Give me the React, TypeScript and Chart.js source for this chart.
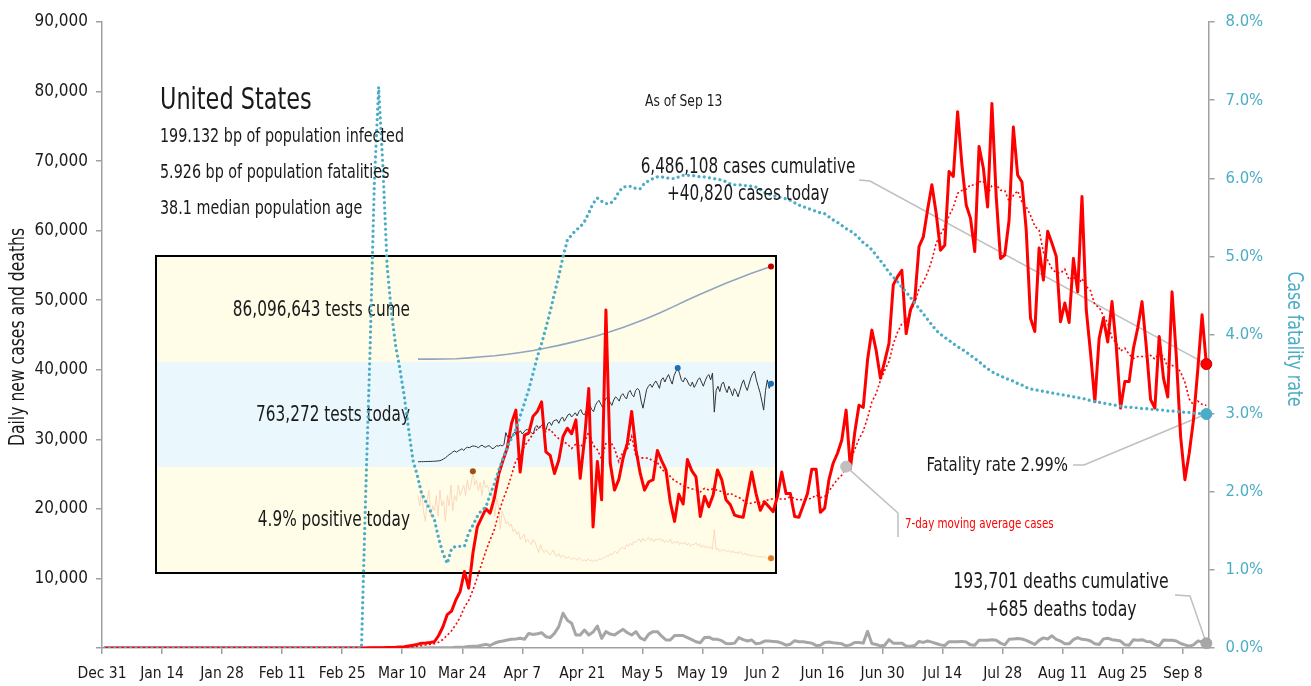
import React, { useEffect, useRef } from "react";
import { Chart, registerables } from "chart.js";

Chart.register(...registerables);

const FONT = '"Liberation Sans Narrow", "Arial Narrow", "DejaVu Sans Condensed", sans-serif';
const TEXT = "#1a1a1a";
const AXIS_GRAY = "#a0a0a0";
const RED = "#FF0000";
const CFR_BLUE = "#4BACC6";
const DEATH_GRAY = "#A6A6A6";
const LEADER = "#BFBFBF";
const SX = 0.83; // horizontal squeeze for a condensed look

// x axis: days since Dec 31
const TICK_DAYS = [0, 14, 28, 42, 56, 70, 84, 98, 112, 126, 140, 154, 168, 182, 196, 210, 224, 238, 252];
const TICK_LABELS = ["Dec 31", "Jan 14", "Jan 28", "Feb 11", "Feb 25", "Mar 10", "Mar 24", "Apr 7", "Apr 21", "May 5", "May 19", "Jun 2", "Jun 16", "Jun 30", "Jul 14", "Jul 28", "Aug 11", "Aug 25", "Sep 8"];

// Daily new cases, Dec 31 .. Sep 13
const CASES = [
  0, 0, 0, 0, 0, 0, 0, 0, 0, 0,
  0, 0, 0, 0, 0, 0, 0, 0, 0, 0,
  0, 0, 0, 0, 0, 0, 0, 0, 0, 0,
  0, 0, 0, 0, 0, 0, 0, 0, 0, 0,
  0, 0, 0, 0, 0, 0, 0, 0, 0, 0,
  0, 0, 0, 0, 0, 0, 0, 0, 0, 0,
  5, 10, 20, 25, 30, 50, 60, 80, 110, 160,
  190, 300, 400, 520, 700, 730, 800, 900, 1800, 3060,
  4800, 5300, 6900, 8100, 11000, 8600, 13700, 17400, 18700, 20000,
  19400, 21600, 25000, 27000, 28800, 32300, 34200, 25300, 30600, 30900,
  33300, 34000, 35400, 28200, 27700, 25100, 27000, 30400, 31600, 30800,
  32800, 24400, 30000, 37300, 17400, 26800, 21300, 48600, 26600, 22700,
  24200, 27300, 29500, 34000, 28500, 25100, 22700, 23900, 24200, 28400,
  26900, 25600, 21000, 18200, 22100, 20700, 27100, 25500, 24600, 18900,
  21800, 20300, 22000, 25600, 24200, 21300, 20600, 19100, 18900, 18800,
  22000, 25300, 22200, 19800, 21000, 20300, 19600, 21800, 25300, 22200,
  22200, 18900, 18800, 20500, 22200, 25700, 25700, 19500, 20100, 24200,
  26600, 28000, 29900, 34200, 25800, 30900, 34900, 34600, 41400, 45700,
  42800, 38800, 41200, 43800, 52200, 53400, 54300, 45200, 48600, 50000,
  57700, 59100, 63000, 66600, 62500, 57200, 57900, 68500, 67800, 77100,
  69500, 63700, 61800, 57000, 72100, 69000, 63400, 78300, 64900, 56000,
  56500, 61500, 74900, 68000, 67000, 60100, 47400, 45500, 57500, 52900,
  59900, 58200, 56300, 46900, 49600, 46800, 56000, 51200, 64900, 48600,
  42400, 35400, 44500, 47400, 44000, 49800, 43300, 34500, 38300, 38300,
  43100, 46000, 49800, 43300, 35700, 34500, 44800, 38800, 36100, 51200,
  41900, 30400, 24200, 28000, 32800, 40000, 47900, 40820,
];

// Daily new deaths
const DEATHS = [
  0, 0, 0, 0, 0, 0, 0, 0, 0, 0,
  0, 0, 0, 0, 0, 0, 0, 0, 0, 0,
  0, 0, 0, 0, 0, 0, 0, 0, 0, 0,
  0, 0, 0, 0, 0, 0, 0, 0, 0, 0,
  0, 0, 0, 0, 0, 0, 0, 0, 0, 0,
  0, 0, 0, 0, 0, 0, 0, 0, 0, 0,
  1, 1, 3, 4, 2, 1, 4, 3, 2, 4,
  8, 7, 10, 7, 10, 14, 22, 32, 24, 41,
  53, 44, 115, 98, 141, 225, 247, 266, 402, 523,
  360, 683, 899, 1000, 1150, 1250, 1300, 1390, 1250, 2100,
  1950, 2050, 2200, 1630, 1500, 2100, 3070, 4990, 4000, 3550,
  1870, 1870, 2590, 1870, 2300, 3160, 1390, 2350, 2000, 1870,
  2300, 2680, 2200, 1870, 2350, 1450, 1150, 2000, 2350, 2350,
  1700, 1150, 1150, 1780, 1780, 1780, 1500, 1200, 900, 750,
  1500, 1550, 1250, 1250, 1050, 650, 600, 700, 1500, 1200,
  1000, 1150, 600, 700, 1000, 1000, 950, 900, 700, 400,
  550, 1050, 900, 900, 800, 700, 350, 380, 800, 850,
  750, 700, 600, 300, 450, 800, 780, 700, 2400, 650,
  500, 300, 400, 1200, 700, 700, 700, 300, 250, 350,
  950, 800, 1000, 850, 650, 450, 350, 900, 900, 900,
  950, 850, 450, 400, 1100, 1100, 1100, 1200, 1100, 700,
  450, 1250, 1300, 1350, 1300, 1100, 800, 500, 1100, 1450,
  1300, 1750, 1250, 1000, 600, 600, 1200, 1500, 1250, 1200,
  1000, 600, 500, 1300, 1400, 1200, 1100, 1000, 450, 400,
  1200, 1100, 1200, 950, 900, 500, 300, 1150, 1100, 1100,
  1000, 650, 450, 250, 450, 1000, 900, 685,
];

// Case fatality rate, percent
const CFR_PCT = [
  0, 0, 0, 0, 0, 0, 0, 0, 0, 0,
  0, 0, 0, 0, 0, 0, 0, 0, 0, 0,
  0, 0, 0, 0, 0, 0, 0, 0, 0, 0,
  0, 0, 0, 0, 0, 0, 0, 0, 0, 0,
  0, 0, 0, 0, 0, 0, 0, 0, 0, 0,
  0, 0, 0, 0, 0, 0, 0, 0, 0, 0,
  0, 2.0, 3.8, 5.95, 7.17, 6.15, 4.87, 4.28, 3.85, 3.55,
  3.21, 2.79, 2.40, 2.21, 1.98, 1.87, 1.76, 1.64, 1.40, 1.21,
  1.08, 1.27, 1.30, 1.30, 1.30, 1.47, 1.57, 1.68, 1.76, 1.80,
  1.96, 2.10, 2.27, 2.42, 2.57, 2.68, 2.79, 2.96, 3.13, 3.30,
  3.51, 3.72, 3.89, 4.09, 4.30, 4.53, 4.75, 5.00, 5.21, 5.28,
  5.34, 5.38, 5.45, 5.56, 5.68, 5.75, 5.71, 5.68, 5.68, 5.73,
  5.83, 5.89, 5.90, 5.90, 5.87, 5.87, 5.94, 5.97, 6.00, 6.02,
  6.02, 6.01, 6.00, 6.00, 6.02, 6.04, 6.04, 6.04, 6.03, 6.02,
  6.02, 6.01, 6.00, 5.99, 5.98, 5.96, 5.93, 5.92, 5.92, 5.91,
  5.91, 5.90, 5.89, 5.86, 5.82, 5.80, 5.78, 5.77, 5.75, 5.74,
  5.72, 5.69, 5.66, 5.64, 5.62, 5.60, 5.58, 5.56, 5.55, 5.51,
  5.47, 5.44, 5.40, 5.36, 5.33, 5.29, 5.24, 5.18, 5.14, 5.09,
  5.02, 4.95, 4.88, 4.80, 4.74, 4.68, 4.61, 4.55, 4.48, 4.41,
  4.34, 4.27, 4.20, 4.13, 4.06, 4.01, 3.97, 3.93, 3.89, 3.85,
  3.82, 3.78, 3.74, 3.70, 3.66, 3.61, 3.57, 3.53, 3.50, 3.48,
  3.45, 3.43, 3.41, 3.38, 3.36, 3.33, 3.31, 3.30, 3.29, 3.28,
  3.27, 3.26, 3.25, 3.24, 3.23, 3.22, 3.21, 3.20, 3.19, 3.18,
  3.16, 3.15, 3.14, 3.13, 3.12, 3.11, 3.10, 3.09, 3.08, 3.08,
  3.07, 3.07, 3.06, 3.06, 3.05, 3.05, 3.04, 3.04, 3.03, 3.03,
  3.02, 3.02, 3.01, 3.01, 3.00, 3.00, 2.99, 2.99,
];

// Day on which the "7-day moving average cases" call-out sits
const MA_NOTE_DAY = 173;

// Inset: testing, from Mar 4 (day 64) .. Sep 13
const INSET_FIRST_DAY = 64;
const TESTS_TODAY_K = [
  28, 28, 29, 29, 30, 30, 31, 31, 32, 33,
  34, 36, 38, 45, 55, 65, 80, 95, 105, 120,
  131, 118, 130, 140, 150, 135, 155, 165, 160, 170,
  177, 175, 170, 160, 175, 185, 170, 165, 175, 180,
  160, 150, 165, 180, 175, 185, 177, 190, 303, 260,
  280, 250, 290, 310, 270, 300, 320, 290, 310, 330,
  331, 320, 300, 290, 350, 370, 340, 360, 380, 350,
  330, 390, 400, 370, 410, 420, 423, 390, 430, 450,
  410, 440, 470, 480, 450, 469, 490, 460, 500, 520,
  480, 470, 510, 540, 560, 520, 500, 560, 590, 607,
  570, 540, 600, 630, 620, 590, 560, 610, 640, 625,
  600, 650, 670, 640, 620, 680, 700, 660, 640, 700,
  720, 699, 600, 533, 620, 710, 740, 760, 730, 763,
  790, 760, 720, 800, 820, 780, 821, 850, 800, 760,
  840, 880, 913, 860, 800, 780, 820, 800, 760, 740,
  780, 729, 760, 800, 820, 780, 740, 790, 830, 850,
  800, 864, 496, 700, 740, 690, 760, 780, 720, 680,
  740, 700, 650, 717, 690, 640, 700, 760, 800, 740,
  700, 760, 820, 860, 882, 800, 740, 680, 600, 515,
  700, 800, 720, 763,
];
const POSITIVE_PCT = [
  17, 15, 18, 14, 12, 16, 18, 13, 15, 14,
  17, 13, 18, 15, 16, 12, 17, 15, 19, 14,
  17, 16, 19, 17, 18, 19, 17, 20, 18, 19,
  21.7, 19, 20, 18, 19.5, 17, 20, 18.5, 19, 17.5,
  18, 16, 13, 16.5, 15, 10.5, 14, 13, 11.5, 12,
  11, 11.5, 10, 10.5, 9.5, 10, 8.5, 9, 9.5, 8,
  8.5, 8, 7.5, 8.5, 8, 7, 6, 7.5, 6.5, 6,
  6.5, 6, 5.5, 6, 6.5, 5.5, 5.2, 5.8, 5, 5.5,
  5.3, 4.8, 5.2, 5, 4.6, 5, 4.8, 4.5, 5, 4.7,
  4.4, 4.6, 4.3, 4.8, 4.4, 4.5, 4.2, 4.6, 4.4, 4.8,
  4.6, 5, 4.9, 5.4, 5.2, 5.7, 5.5, 6, 6.2, 5.8,
  6.5, 6.8, 7, 6.6, 7.5, 7.2, 7.8, 7.4, 8.2, 7.9,
  8.4, 8.6, 8, 8.8, 8.2, 8.5, 9, 8.3, 8.7, 8.1,
  8.6, 8.4, 8.8, 8.2, 8.5, 7.9, 8.3, 8, 8.6, 7.7,
  8.1, 7.8, 8.2, 7.5, 7.9, 7.6, 8, 7.4, 7.8, 7.2,
  7.6, 7.5, 7.9, 7.3, 7.7, 7, 7.4, 6.9, 7.2, 6.8,
  7.1, 6.6, 10.4, 6.5, 6.8, 6.2, 6.6, 6.3, 6.5, 6.1,
  6.4, 6, 6.3, 5.9, 6.1, 5.7, 6.2, 5.8, 5.6, 5.9,
  5.4, 5.7, 5.3, 5.5, 5.2, 5.4, 5.1, 5.3, 5, 5.2,
  5.1, 4.8, 5, 4.9,
];
const CUME_DAYS = [64, 71, 78, 85, 92, 99, 106, 113, 120, 127, 134, 141, 148, 155, 162, 169, 176, 183, 190, 197, 204, 211, 218, 225, 232, 239, 246, 253, 257];
const CUME_TESTS_M = [0.01, 0.02, 0.08, 0.4, 1.2, 2.2, 3.2, 4.5, 6.2, 8.0, 10.3, 12.8, 15.6, 18.5, 21.8, 25.4, 29.4, 33.9, 38.6, 43.6, 49.1, 54.8, 60.2, 65.3, 70.4, 75.0, 79.6, 83.9, 86.1];

const INSET_LABELS = ["86,096,643 tests cume", "763,272 tests today", "4.9% positive today"];
const HEADLINE = "United States";
const FACTS = ["199.132 bp of population infected", "5.926 bp of population fatalities", "38.1 median population age"];
const AS_OF = "As of Sep 13";
const CASES_NOTE = ["6,486,108 cases cumulative", "+40,820 cases today"];
const DEATHS_NOTE = ["193,701 deaths cumulative", "+685 deaths today"];
const CFR_NOTE = "Fatality rate 2.99%";
const MA_NOTE = "7-day moving average cases";

// 7-day moving-average trendline of daily cases
const MA7 = CASES.map((_, i) =>
  i < 6 ? null : CASES.slice(i - 6, i + 1).reduce((a, b) => a + b, 0) / 7
);

const xy = (arr: (number | null)[], k = 1) =>
  arr.map((v, i) => ({ x: i + 0.5, y: v === null ? null : v * k }));

const font = (size: number) => `${size}px ${FONT}`;

function txt(ctx: any, s: string, x: number, y: number, size: number, align: string, rot = 0) {
  ctx.save();
  ctx.font = font(size);
  ctx.translate(x, y);
  if (rot) ctx.rotate(rot);
  ctx.scale(SX, 1);
  ctx.textAlign = align;
  ctx.fillText(s, 0, 0);
  ctx.restore();
}

export default function App() {
  const mainRef = useRef<HTMLCanvasElement>(null);
  const insetRef = useRef<HTMLCanvasElement>(null);

  useEffect(() => {
    const last = CASES.length - 1;

    // ---------- inset (testing) ----------
    const testsMaxIdx = TESTS_TODAY_K.indexOf(Math.max(...TESTS_TODAY_K));
    const posMaxIdx = POSITIVE_PCT.indexOf(Math.max(...POSITIVE_PCT));
    const dayPts = (arr: number[]) => arr.map((v, i) => ({ x: INSET_FIRST_DAY + i, y: v }));
    const markAt = (idxs: number[], r: number) => (c: any) => (idxs.includes(c.dataIndex) ? r : 0);

    const insetBands = {
      id: "insetBands",
      beforeDraw(chart: any) {
        const { ctx, width, height } = chart;
        const h = height / 3;
        ctx.save();
        ctx.fillStyle = "#FFFDE8";
        ctx.fillRect(0, 0, width, h);
        ctx.fillStyle = "#EAF8FE";
        ctx.fillRect(0, h, width, h);
        ctx.fillStyle = "#FFFDE8";
        ctx.fillRect(0, 2 * h, width, height - 2 * h);
        ctx.fillStyle = TEXT;
        ctx.textBaseline = "middle";
        INSET_LABELS.forEach((t, i) => txt(ctx, t, 253, h * i + h / 2 + 1, 20.5, "right"));
        ctx.restore();
      },
    };

    const inset = new Chart(insetRef.current as HTMLCanvasElement, {
      type: "line",
      data: {
        datasets: [
          {
            data: CUME_DAYS.map((d, i) => ({ x: d, y: CUME_TESTS_M[i] })),
            yAxisID: "yc",
            borderColor: "#8FA6BE",
            borderWidth: 1.6,
            pointRadius: markAt([CUME_DAYS.length - 1], 3),
            pointBackgroundColor: "#C00000",
            pointBorderWidth: 0,
            clip: false,
          },
          {
            data: dayPts(TESTS_TODAY_K),
            yAxisID: "yt",
            borderColor: "#333333",
            borderWidth: 1,
            pointRadius: markAt([testsMaxIdx, TESTS_TODAY_K.length - 1], 3),
            pointBackgroundColor: "#1F6FB5",
            pointBorderWidth: 0,
            clip: false,
          },
          {
            data: dayPts(POSITIVE_PCT),
            yAxisID: "yp",
            borderColor: "#F9D5B9",
            borderWidth: 0.9,
            pointRadius: markAt([posMaxIdx, POSITIVE_PCT.length - 1], 3),
            pointBackgroundColor: (c: any) => (c.dataIndex === posMaxIdx ? "#9C5116" : "#E07B28"),
            pointBorderWidth: 0,
            clip: false,
          },
        ],
      },
      options: {
        responsive: false,
        animation: false,
        events: [],
        layout: { padding: { left: 261, right: 3, top: 0, bottom: 0 } },
        plugins: { legend: { display: false }, tooltip: { enabled: false } },
        elements: { line: { tension: 0 } },
        scales: {
          x: { type: "linear", display: false, min: INSET_FIRST_DAY, max: 257 },
          yc: { type: "linear", display: false, min: -194.3, max: 91.3 },
          yt: { type: "linear", display: false, min: -974, max: 1921 },
          yp: { type: "linear", display: false, min: 3.0, max: 62.3 },
        },
      },
      plugins: [insetBands],
    } as any);

    // ---------- main chart ----------
    const marker = (data: any[], color: string, border: string, yAxisID = "y") => ({
      data,
      yAxisID,
      showLine: false,
      pointRadius: 5.5,
      pointBackgroundColor: color,
      pointBorderColor: border,
      pointBorderWidth: 1,
      order: 0,
      clip: false,
    });

    const datasets: any[] = [
      marker([{ x: last + 0.5, y: CASES[last] }], RED, "#C00000"),
      marker([{ x: last + 0.5, y: CFR_PCT[last] / 100 }], CFR_BLUE, CFR_BLUE, "y1"),
      marker([{ x: last + 0.5, y: DEATHS[last] }], DEATH_GRAY, DEATH_GRAY),
      marker([{ x: MA_NOTE_DAY + 0.5, y: MA7[MA_NOTE_DAY] }], "#BFBFBF", "#BFBFBF"),
      {
        data: xy(CFR_PCT, 0.01),
        yAxisID: "y1",
        borderColor: CFR_BLUE,
        borderWidth: 3.2,
        borderDash: [0.01, 5.3],
        borderCapStyle: "round",
        pointRadius: 0,
        order: 1,
      },
      {
        data: xy(CASES),
        yAxisID: "y",
        borderColor: RED,
        borderWidth: 3,
        borderJoinStyle: "round",
        pointRadius: 0,
        order: 2,
      },
      {
        data: xy(MA7),
        yAxisID: "y",
        borderColor: RED,
        borderWidth: 1.6,
        borderDash: [2, 2.4],
        pointRadius: 0,
        order: 3,
      },
      {
        data: xy(DEATHS),
        yAxisID: "y",
        borderColor: DEATH_GRAY,
        borderWidth: 3,
        borderJoinStyle: "round",
        pointRadius: 0,
        order: 4,
      },
    ];

    const annotations = {
      id: "annotations",
      beforeDatasetsDraw(chart: any) {
        const ctx = chart.ctx;
        const mk = (i: number) => chart.getDatasetMeta(i).data[0];
        const path = (pts: number[][]) => {
          ctx.beginPath();
          pts.forEach(([x, y], k) => (k ? ctx.lineTo(x, y) : ctx.moveTo(x, y)));
          ctx.stroke();
        };
        ctx.save();
        ctx.strokeStyle = LEADER;
        ctx.lineWidth = 1.5;
        const c = mk(0);
        path([[859, 180], [870, 181], [c.x, c.y]]);
        const f = mk(1);
        path([[1073, 465], [1084, 465], [f.x, f.y]]);
        const d = mk(2);
        path([[1175, 595], [1190, 596], [d.x, d.y]]);
        const m = mk(3);
        path([[m.x, m.y], [898, 513]]);
        path([[898, 513], [898, 537]]);
        ctx.restore();
      },
      afterDraw(chart: any) {
        const ctx = chart.ctx;
        ctx.save();
        ctx.fillStyle = TEXT;
        ctx.textBaseline = "alphabetic";
        txt(ctx, HEADLINE, 160, 109, 30, "left");
        ctx.textBaseline = "middle";
        FACTS.forEach((t, i) => txt(ctx, t, 160, 137 + i * 36, 19.2, "left"));
        txt(ctx, AS_OF, 645, 102, 16.5, "left");

        txt(ctx, CASES_NOTE[0], 748, 168, 20.4, "center");
        txt(ctx, CASES_NOTE[1], 748, 195, 20.4, "center");
        txt(ctx, DEATHS_NOTE[0], 1061, 583, 21, "center");
        txt(ctx, DEATHS_NOTE[1], 1061, 611, 21, "center");
        txt(ctx, CFR_NOTE, 1068, 466, 20, "right");

        ctx.fillStyle = RED;
        txt(ctx, MA_NOTE, 905, 524, 13.8, "left");

        // axis titles
        ctx.fillStyle = TEXT;
        txt(ctx, "Daily new cases and deaths", 19, 337, 20.9, "center", -Math.PI / 2);
        ctx.fillStyle = CFR_BLUE;
        txt(ctx, "Case fatality rate", 1293, 339, 21, "center", Math.PI / 2);
        ctx.restore();
      },
    };

    const axisGrid = { drawOnChartArea: false, drawTicks: true, tickLength: 6, color: AXIS_GRAY, lineWidth: 1.5 };
    const axisBorder = { display: true, color: AXIS_GRAY, width: 1.5 };

    const main = new Chart(mainRef.current as HTMLCanvasElement, {
      type: "line",
      data: { datasets },
      options: {
        responsive: false,
        animation: false,
        events: [],
        layout: { padding: { top: 22, left: 0, right: 0, bottom: 0 } },
        plugins: { legend: { display: false }, tooltip: { enabled: false } },
        elements: { line: { tension: 0 } },
        scales: {
          x: {
            type: "linear",
            min: 0,
            max: CASES.length,
            afterBuildTicks: (s: any) => {
              s.ticks = TICK_DAYS.map((v) => ({ value: v }));
            },
            afterFit: (s: any) => {
              s.height = 38;
            },
            ticks: {
              autoSkip: false,
              maxRotation: 0,
              minRotation: 0,
              color: TEXT,
              padding: 11,
              font: { family: FONT, size: 15.5 },
              callback: (v: any) => {
                const i = TICK_DAYS.indexOf(v);
                return i >= 0 ? TICK_LABELS[i] : "";
              },
            },
            grid: axisGrid,
            border: axisBorder,
          },
          y: {
            type: "linear",
            position: "left",
            min: 0,
            max: 90000,
            afterFit: (s: any) => {
              s.width = 102;
            },
            ticks: {
              stepSize: 10000,
              color: TEXT,
              padding: 8,
              font: { family: FONT, size: 17 },
              callback: (v: any) => (v === 0 ? "" : Number(v).toLocaleString("en-US")),
            },
            grid: axisGrid,
            border: axisBorder,
          },
          y1: {
            type: "linear",
            position: "right",
            min: 0,
            max: 0.08,
            afterFit: (s: any) => {
              s.width = 102.5;
            },
            ticks: {
              stepSize: 0.01,
              color: CFR_BLUE,
              padding: 11,
              font: { family: FONT, size: 16.5 },
              callback: (v: any) => (Number(v) * 100).toFixed(1) + "%",
            },
            grid: axisGrid,
            border: axisBorder,
          },
        },
      },
      plugins: [annotations],
    } as any);

    return () => {
      main.destroy();
      inset.destroy();
    };
  }, []);

  return (
    <div
      style={{
        position: "fixed",
        left: 0,
        top: 0,
        width: 1311,
        height: 686,
        background: "#ffffff",
        overflow: "hidden",
      }}
    >
      <div
        style={{
          position: "absolute",
          left: 155,
          top: 255,
          width: 618,
          height: 315,
          border: "2px solid #000",
        }}
      >
        <canvas ref={insetRef} width={618} height={315} style={{ display: "block" }} />
      </div>
      <canvas
        ref={mainRef}
        width={1311}
        height={686}
        style={{ position: "absolute", left: 0, top: 0 }}
      />
    </div>
  );
}
